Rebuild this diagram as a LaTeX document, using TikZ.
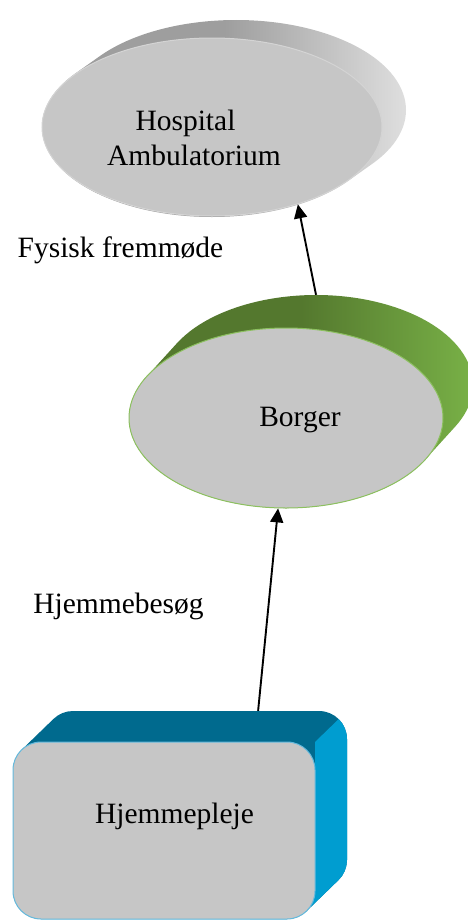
\documentclass[tikz,border=0pt]{standalone}
\usepackage{fontspec}
\setmainfont{Liberation Serif}
\usetikzlibrary{shapes.geometric,arrows.meta,calc}
\definecolor{facegray}{RGB}{198,198,198}
\definecolor{hospdark}{RGB}{158,158,158}
\definecolor{hosplight}{RGB}{230,230,230}
\definecolor{hospline}{RGB}{212,212,212}
\definecolor{borgdark}{RGB}{84,120,46}
\definecolor{borglight}{RGB}{125,184,74}
\definecolor{borgline}{RGB}{140,192,95}
\definecolor{hjemdark}{RGB}{0,106,142}
\definecolor{hjemlight}{RGB}{0,157,208}
\definecolor{hjemline}{RGB}{100,185,220}
\tikzset{
  lbl/.style={font=\fontsize{29.5}{35}\selectfont, text=black, inner sep=0pt, anchor=base},
  conn/.style={line width=1.9pt, -{Triangle[length=14pt,width=13pt]}},
  ellface/.style={ellipse, fill=facegray, inner sep=0pt},
  helper/.style={inner sep=0pt},
}
\begin{document}
\begin{tikzpicture}[x=1pt,y=1pt]
\useasboundingbox (0,0) rectangle (468,-921);

% ---------- Hospital / Ambulatorium ----------
\shade[left color=hospdark, right color=hosplight, middle color=hospdark]
  ($(212,-127)+(143.2:170 and 90)$)
  arc[start angle=143.2, end angle=323.2, x radius=170, y radius=90]
  -- ++(24,17)
  arc[start angle=323.2, end angle=503.2, x radius=170, y radius=90] -- cycle;
\node[ellface, draw=hospline, line width=1pt, minimum width=340pt, minimum height=178pt] (hosp) at (212,-127) {};
\node[lbl, align=center, anchor=center] (hosptxt) at (194,-138) {Hospital\hspace*{17pt}\\Ambulatorium};

% ---------- Borger ----------
\shade[left color=borgdark, right color=borglight, middle color=borgdark]
  ($(286,-418)+(152.5:157 and 90)$)
  arc[start angle=152.5, end angle=332.5, x radius=157, y radius=90]
  -- ++(30,33)
  arc[start angle=332.5, end angle=512.5, x radius=157, y radius=90] -- cycle;
\node[helper, ellipse, minimum width=314pt, minimum height=180pt] (bback) at (316,-385) {};
\node[ellface, draw=borgline, line width=1pt, minimum width=314pt, minimum height=180pt] (borger) at (286,-418) {};
\node[lbl] (borgtxt) at (300,-426) {Borger};

% ---------- Hjemmepleje ----------
\fill[hjemdark, path picture={
    \fill[hjemlight] (315,-742) -- (347,-711) -- (420,-711) -- (420,-960) -- (250,-960) -- (250,-850) -- (315,-850) -- cycle;
  }]
  ($(41,-770)+(134:28)$)
  arc[start angle=134, end angle=180, radius=28] -- ++(0,-121)
  arc[start angle=180, end angle=270, radius=28] -- ++(246,0)
  arc[start angle=270, end angle=314, radius=28] -- ++(32,31)
  arc[start angle=314, end angle=360, radius=28] -- ++(0,121)
  arc[start angle=0, end angle=90, radius=28] -- ++(-246,0)
  arc[start angle=90, end angle=134, radius=28] -- cycle;
\node[helper, rectangle, minimum width=302pt, minimum height=177pt] (hback) at (196,-799.5) {};
\node[rectangle, rounded corners=28pt, fill=facegray, draw=hjemline, line width=1pt, minimum width=302pt, minimum height=177pt, inner sep=0pt] (hjem) at (164,-830.5) {};
\node[lbl] (hjemtxt) at (174.5,-823) {Hjemmepleje};

% ---------- labels ----------
\node[lbl] (fystxt) at (120.5,-257) {Fysisk fremmøde};
\node[lbl] (hjbtxt) at (118.5,-613) {Hjemmebesøg};

% ---------- connectors ----------
\draw[conn] (bback.north) -- (hosp.-42);
\draw[conn] (hback.55.4) -- (borger.-95);
\end{tikzpicture}
\end{document}
